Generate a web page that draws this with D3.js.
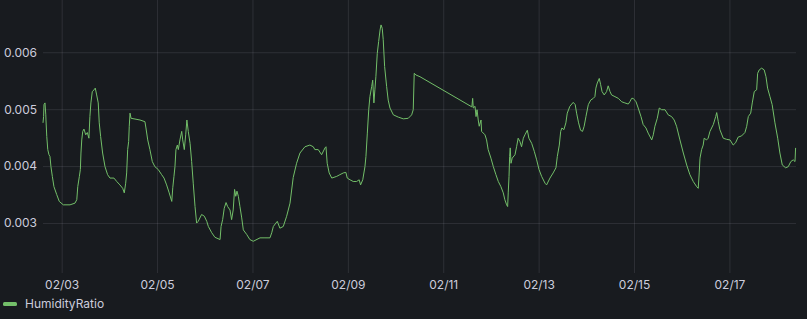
<!DOCTYPE html>
<html>
<head>
<meta charset="utf-8">
<script src="https://d3js.org/d3.v7.min.js"></script>
<style>
  html, body { margin: 0; padding: 0; background: #181b1f; }
  svg { display: block; }
  text { font-family: Inter, "Noto Sans", sans-serif; }
</style>
</head>
<body>
<div id="chart"></div>
<script>
// hours after 02/02 00:00
const hours = [
  14.6, 14.9, 15.1, 15.6, 16.0, 16.1, 16.5, 17.0, 17.6, 18.1, 18.6, 19.3, 20.1, 21.5, 22.8,
  24.8, 28.2, 30.7, 31.6, 32.1, 32.9, 33.4, 33.7, 34.1, 34.6, 35.2, 36.1, 36.9, 37.7, 38.2,
  38.7, 39.4, 40.3, 40.9, 41.6, 42.4, 42.9, 43.6, 44.6, 45.8, 47.1, 48.3, 50.3, 51.7, 53.3,
  54.7, 55.5, 56.2, 56.7, 57.2, 57.7, 58.0, 58.4, 58.9, 63.4, 65.9, 66.4, 67.3, 68.4, 69.6,
  70.9, 72.6, 74.3, 75.5, 76.8, 78.1, 79.4, 79.9, 80.5, 81.0, 81.5, 82.2, 82.7, 83.5, 84.4,
  84.9, 85.7, 86.4, 87.0, 87.7, 88.6, 89.4, 90.2, 91.1, 91.9, 92.7, 94.4, 95.8, 97.0, 97.8,
  99.5, 101.1, 103.7, 104.2, 105.0, 105.8, 106.7, 107.5, 108.7, 109.5, 110.3, 111.0, 111.6, 112.2, 112.9,
  113.7, 114.6, 115.4, 117.1, 118.7, 120.4, 123.8, 126.3, 128.8, 129.7, 130.5, 131.8, 132.5, 133.8, 135.5,
  137.2, 138.9, 140.5, 142.2, 143.9, 146.4, 148.9, 150.6, 151.4, 153.1, 154.8, 156.5, 157.0, 157.6, 158.6,
  159.9, 162.4, 164.0, 165.7, 167.0, 167.7, 169.1, 170.7, 172.4, 173.7, 174.4, 175.5, 176.6, 177.1, 177.8,
  178.5, 179.1, 180.0, 180.5, 181.1, 181.6, 182.1, 182.8, 183.5, 184.2, 184.7, 185.3, 185.8, 186.5, 187.5,
  188.3, 189.2, 190.9, 193.4, 195.9, 198.4, 200.1, 200.9, 201.4, 202.3, 204.3,
  230.4, 230.8, 231.1, 232.0, 232.5, 233.0, 233.6, 234.1, 235.0, 235.3, 237.0, 237.8, 238.6, 240.0, 241.2,
  242.5, 243.7, 245.0, 246.2, 247.0, 247.9, 248.4, 248.7, 249.1, 249.4, 249.7, 250.1, 250.7, 252.1, 252.9,
  253.7, 254.6, 255.4, 256.3, 257.1, 258.3, 259.1, 260.5, 261.8, 263.0, 264.2, 265.5, 267.2, 268.0, 269.7,
  271.3, 272.7, 273.4, 274.4, 275.1, 275.7, 276.7, 277.7, 278.4, 279.7, 281.4, 282.4, 283.1, 284.1, 285.1,
  286.1, 286.9, 287.8, 289.0, 290.2, 291.5, 292.3, 292.8, 293.5, 294.5, 295.2, 295.9, 297.0, 298.2, 299.0,
  299.9, 300.7, 302.4, 304.1, 305.8, 307.4, 309.1, 309.9, 310.8, 311.6, 313.0, 314.1, 315.5, 316.6, 318.0,
  319.1, 320.9, 321.7, 322.5, 323.7, 324.7, 325.9, 327.6, 329.2, 330.9, 332.2, 333.4, 335.1, 336.8, 338.5,
  340.1, 341.8, 343.5, 344.3, 344.8, 345.2, 346.0, 346.8, 347.3, 348.5, 349.3, 350.2, 351.9, 353.1, 353.6,
  354.4, 355.2, 356.9, 358.6, 360.3, 361.9, 363.1, 364.4, 366.1, 367.8, 368.7, 369.5, 370.7, 371.5, 372.5,
  373.7, 374.2, 375.0, 376.2, 377.5, 378.4, 379.2, 380.4, 381.5, 382.9, 384.3, 385.4, 386.6, 388.3, 389.6,
  390.9, 392.1, 393.0, 393.3
];

const humidityRatio = [
  0.00476, 0.00487, 0.00508, 0.00511, 0.00490, 0.00481, 0.00452, 0.00429, 0.00420, 0.00417, 0.00399, 0.00382, 0.00364, 0.00350, 0.00338,
  0.00332, 0.00332, 0.00335, 0.00341, 0.00364, 0.00382, 0.00394, 0.00423, 0.00446, 0.00461, 0.00465, 0.00455, 0.00459, 0.00449, 0.00487,
  0.00511, 0.00531, 0.00534, 0.00537, 0.00525, 0.00511, 0.00476, 0.00452, 0.00423, 0.00399, 0.00385, 0.00379, 0.00379, 0.00373, 0.00367,
  0.00361, 0.00353, 0.00370, 0.00388, 0.00429, 0.00443, 0.00470, 0.00493, 0.00484, 0.00481, 0.00478, 0.00467, 0.00446, 0.00429, 0.00408,
  0.00399, 0.00394, 0.00385, 0.00379, 0.00367, 0.00353, 0.00338, 0.00362, 0.00382, 0.00399, 0.00429, 0.00437, 0.00429, 0.00446, 0.00461,
  0.00446, 0.00429, 0.00455, 0.00481, 0.00461, 0.00440, 0.00408, 0.00370, 0.00329, 0.00300, 0.00303, 0.00315, 0.00312, 0.00303, 0.00294,
  0.00283, 0.00275, 0.00271, 0.00294, 0.00306, 0.00326, 0.00336, 0.00329, 0.00323, 0.00306, 0.00323, 0.00359, 0.00347, 0.00356, 0.00347,
  0.00329, 0.00309, 0.00288, 0.00280, 0.00271, 0.00268, 0.00274, 0.00274, 0.00274, 0.00283, 0.00294, 0.00300, 0.00303, 0.00291, 0.00294,
  0.00312, 0.00335, 0.00380, 0.00405, 0.00423, 0.00434, 0.00437, 0.00434, 0.00429, 0.00429, 0.00420, 0.00432, 0.00434, 0.00405, 0.00388,
  0.00379, 0.00382, 0.00385, 0.00388, 0.00389, 0.00379, 0.00376, 0.00373, 0.00373, 0.00376, 0.00367, 0.00376, 0.00399, 0.00417, 0.00458,
  0.00499, 0.00522, 0.00540, 0.00551, 0.00511, 0.00534, 0.00557, 0.00598, 0.00619, 0.00639, 0.00648, 0.00642, 0.00622, 0.00575, 0.00540,
  0.00516, 0.00502, 0.00490, 0.00486, 0.00483, 0.00484, 0.00490, 0.00499, 0.00563, 0.00560, 0.00557,
  0.00504, 0.00519, 0.00502, 0.00505, 0.00487, 0.00499, 0.00481, 0.00470, 0.00481, 0.00461, 0.00455, 0.00446, 0.00429, 0.00414, 0.00399,
  0.00385, 0.00373, 0.00364, 0.00353, 0.00341, 0.00332, 0.00329, 0.00353, 0.00382, 0.00417, 0.00432, 0.00405, 0.00414, 0.00420, 0.00434,
  0.00449, 0.00443, 0.00434, 0.00449, 0.00455, 0.00463, 0.00449, 0.00440, 0.00426, 0.00411, 0.00394, 0.00382, 0.00370, 0.00367, 0.00379,
  0.00388, 0.00397, 0.00417, 0.00437, 0.00461, 0.00467, 0.00464, 0.00476, 0.00493, 0.00505, 0.00512, 0.00508, 0.00493, 0.00476, 0.00463,
  0.00461, 0.00470, 0.00487, 0.00508, 0.00516, 0.00519, 0.00522, 0.00537, 0.00546, 0.00554, 0.00543, 0.00531, 0.00525, 0.00531, 0.00541,
  0.00531, 0.00525, 0.00522, 0.00519, 0.00513, 0.00511, 0.00509, 0.00513, 0.00519, 0.00519, 0.00513, 0.00502, 0.00487, 0.00473, 0.00467,
  0.00458, 0.00446, 0.00455, 0.00470, 0.00484, 0.00502, 0.00499, 0.00499, 0.00490, 0.00487, 0.00481, 0.00470, 0.00446, 0.00423, 0.00402,
  0.00385, 0.00373, 0.00364, 0.00361, 0.00388, 0.00414, 0.00429, 0.00437, 0.00449, 0.00446, 0.00449, 0.00461, 0.00473, 0.00487, 0.00494,
  0.00478, 0.00464, 0.00449, 0.00447, 0.00446, 0.00437, 0.00441, 0.00451, 0.00453, 0.00459, 0.00470, 0.00487, 0.00493, 0.00511, 0.00531,
  0.00534, 0.00563, 0.00569, 0.00572, 0.00569, 0.00557, 0.00537, 0.00522, 0.00508, 0.00476, 0.00449, 0.00423, 0.00402, 0.00397, 0.00399,
  0.00408, 0.00411, 0.00408, 0.00432
];

const yTicks = [0.003, 0.004, 0.005, 0.006];
const xTickLabels = ["02/03", "02/05", "02/07", "02/09", "02/11", "02/13", "02/15", "02/17"];
const seriesName = "HumidityRatio";

const width = 807, height = 319;
const margin = { left: 43, right: 11, top: 0, bottom: 46 };
const plotW = width - margin.left - margin.right;
const plotH = height - margin.top - margin.bottom;

const base = new Date(2024, 1, 2);
const atHour = h => new Date(base.getTime() + h * 3600e3);
const parseTick = d3.timeParse("%Y/%m/%d");

const data = hours.map((h, i) => ({ t: atHour(h), v: humidityRatio[i] }));

const x = d3.scaleTime()
  .domain([atHour(14.6), atHour(393.5)])
  .range([0, plotW]);

// 0.003 sits at y=223, 0.006 at y=52
const y = d3.scaleLinear()
  .domain([0.003 - 50 / 57 * 0.001, 0.006 + 52.3 / 57 * 0.001])
  .range([plotH, 0]);

const svg = d3.select("#chart").append("svg")
  .attr("width", width)
  .attr("height", height);

svg.append("rect")
  .attr("width", width)
  .attr("height", height)
  .attr("fill", "#181b1f");

const g = svg.append("g")
  .attr("transform", `translate(${margin.left},${margin.top})`);

const gridColor = "rgba(204,204,220,0.12)";
const textColor = "#ccccdc";

// vertical grid + x labels
const xTicks = xTickLabels.map(s => parseTick("2024/" + s));
const xAxis = d3.axisBottom(x)
  .tickValues(xTicks)
  .tickFormat(d3.timeFormat("%m/%d"))
  .tickSize(plotH)
  .tickPadding(5);

g.append("g")
  .call(xAxis)
  .call(a => a.select(".domain").remove())
  .call(a => a.selectAll("line").attr("stroke", gridColor))
  .call(a => a.selectAll("text")
    .attr("fill", textColor)
    .attr("font-size", 12)
    .attr("dy", "0.95em"));

// horizontal grid + y labels
const yAxis = d3.axisLeft(y)
  .tickValues(yTicks)
  .tickFormat(d3.format(".3f"))
  .tickSize(-plotW)
  .tickPadding(6);

g.append("g")
  .call(yAxis)
  .call(a => a.select(".domain").remove())
  .call(a => a.selectAll("line").attr("stroke", gridColor))
  .call(a => a.selectAll("text")
    .attr("fill", textColor)
    .attr("font-size", 12));

// series
const line = d3.line()
  .x(d => x(d.t))
  .y(d => y(d.v));

g.append("path")
  .datum(data)
  .attr("fill", "none")
  .attr("stroke", "#73bf69")
  .attr("stroke-width", 1)
  .attr("stroke-linejoin", "round")
  .attr("d", line);

// legend
const legend = svg.append("g").attr("transform", "translate(3,304)");
legend.append("rect")
  .attr("x", 0).attr("y", -2)
  .attr("width", 14).attr("height", 4)
  .attr("rx", 1.5)
  .attr("fill", "#73bf69");
legend.append("text")
  .attr("x", 22)
  .attr("dy", "0.35em")
  .attr("fill", textColor)
  .attr("font-size", 12)
  .text(seriesName);
</script>
</body>
</html>
